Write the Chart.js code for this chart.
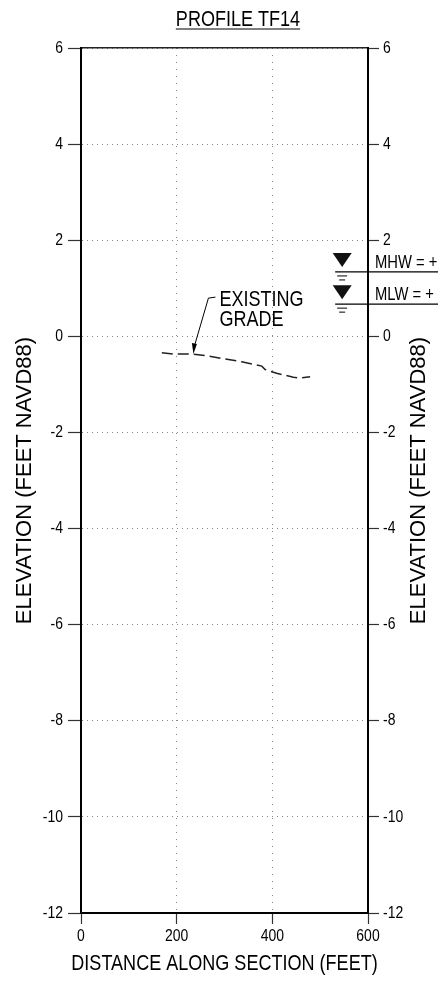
<!DOCTYPE html>
<html><head><meta charset="utf-8">
<script src="https://cdn.jsdelivr.net/npm/chart.js@4.4.1/dist/chart.umd.min.js"></script>
<style>html,body{margin:0;padding:0;background:#fff;}#wrap{width:438px;height:982px;}</style>
</head><body><div id="wrap"><canvas id="c" width="438" height="982"></canvas></div>
<script>
// ---- data ----
const distance  = [169, 193, 234, 259, 301, 336, 378, 385, 409, 444, 458, 479];
const elevation = [-0.34, -0.37, -0.37, -0.40, -0.47, -0.53, -0.62, -0.69, -0.77, -0.85, -0.87, -0.84];
const xTicks = [0, 200, 400, 600];
const yTicks = [6, 4, 2, 0, -2, -4, -6, -8, -10, -12];
const waterLevelNames = ['MHW = +', 'MLW = +'];
const waterLevelElev  = [1.34, 0.67];
const waterMarkerDistance = 546;
const chartTitle = 'PROFILE TF14';
const xTitle = 'DISTANCE ALONG SECTION (FEET)';
const yTitle = 'ELEVATION (FEET NAVD88)';
const calloutText = ['EXISTING', 'GRADE'];
const calloutPoint = [235, -0.37];

// ---- styles ----
const FONT = "'Liberation Sans', Arial, sans-serif";
const SQUEEZE = 0.82; // horizontal text is drawn slightly condensed, as in the scanned drawing

const canvas = document.getElementById('c');
const ctx0 = canvas.getContext('2d');
const origFillText = ctx0.fillText;
ctx0.fillText = function (text, x, y, maxWidth) {
  const m = this.getTransform();
  if (Math.abs(m.b) > 1e-6 || Math.abs(m.c) > 1e-6) {
    return maxWidth === undefined ? origFillText.call(this, text, x, y) : origFillText.call(this, text, x, y, maxWidth);
  }
  this.save();
  this.translate(x, y);
  this.scale(SQUEEZE, 1);
  origFillText.call(this, text, 0, 0);
  this.restore();
};

const setTicks = (arr) => (scale) => { scale.ticks = arr.map(v => ({value: v})); };

const annot = {
  id: 'annot',
  afterDraw(chart) {
    const {ctx, scales} = chart;
    const xs = scales.x, ys = scales.y;
    ctx.save();
    ctx.fillStyle = '#000';
    ctx.strokeStyle = '#000';
    // main title with underline
    ctx.font = '22px ' + FONT;
    ctx.textAlign = 'center';
    ctx.textBaseline = 'alphabetic';
    const tx = 238, ty = 26;
    ctx.fillText(chartTitle, tx, ty);
    const tw = ctx.measureText(chartTitle).width * SQUEEZE;
    ctx.lineWidth = 1.2;
    ctx.beginPath(); ctx.moveTo(tx - tw/2, ty + 3); ctx.lineTo(tx + tw/2, ty + 3); ctx.stroke();

    // right axis title (reads bottom-to-top)
    ctx.save();
    ctx.font = '22px ' + FONT;
    ctx.translate(419, (ys.top + ys.bottom) / 2);
    ctx.rotate(-Math.PI / 2);
    ctx.textBaseline = 'middle';
    ctx.textAlign = 'center';
    ctx.fillText(yTitle, 0, 0);
    ctx.restore();

    // callout "EXISTING GRADE"
    const px = xs.getPixelForValue(calloutPoint[0]);
    const py = ys.getPixelForValue(calloutPoint[1]);
    const sx = px + 15, sy = py - 56;
    ctx.lineWidth = 1;
    ctx.beginPath();
    ctx.moveTo(sx + 7, sy - 1); ctx.lineTo(sx, sy); ctx.lineTo(px + 1, py - 8);
    ctx.stroke();
    ctx.beginPath();
    ctx.moveTo(px, py); ctx.lineTo(px - 1.5, py - 11); ctx.lineTo(px + 3.5, py - 10);
    ctx.closePath(); ctx.fill();
    ctx.font = '22px ' + FONT;
    ctx.textAlign = 'left';
    ctx.textBaseline = 'alphabetic';
    ctx.fillText(calloutText[0], px + 26, py - 48);
    ctx.fillText(calloutText[1], px + 26, py - 28);

    // water level markers
    const mx = xs.getPixelForValue(waterMarkerDistance);
    waterLevelElev.forEach((e, i) => {
      const wy = ys.getPixelForValue(e);
      ctx.lineWidth = 1.3;
      ctx.beginPath(); ctx.moveTo(mx - 7, wy); ctx.lineTo(chart.width, wy); ctx.stroke();
      ctx.lineWidth = 1;
      ctx.beginPath(); ctx.moveTo(mx - 5, wy + 4); ctx.lineTo(mx + 5, wy + 4); ctx.stroke();
      ctx.beginPath(); ctx.moveTo(mx - 3, wy + 8); ctx.lineTo(mx + 3, wy + 8); ctx.stroke();
      ctx.fillStyle = '#111';
      ctx.beginPath();
      ctx.moveTo(mx - 9.5, wy - 19); ctx.lineTo(mx + 9.5, wy - 19); ctx.lineTo(mx, wy - 5);
      ctx.closePath(); ctx.fill();
      ctx.fillStyle = '#000';
      ctx.font = '18px ' + FONT;
      ctx.textAlign = 'left';
      ctx.fillText(waterLevelNames[i], 375, wy - 4);
    });
    ctx.restore();
  }
};

new Chart(canvas, {
  type: 'scatter',
  data: {
    datasets: [{
      data: distance.map((d, i) => ({x: d, y: elevation[i]})),
      showLine: true,
      pointRadius: 0,
      borderColor: '#222',
      borderWidth: 1.5,
      borderDash: [11, 5],
      fill: false
    }]
  },
  options: {
    responsive: false,
    animation: false,
    devicePixelRatio: 1,
    layout: {padding: 0},
    plugins: {legend: {display: false}, tooltip: {enabled: false}, title: {display: false}},
    scales: {
      x: {
        type: 'linear', position: 'bottom', min: 0, max: 600,
        afterBuildTicks: setTicks(xTicks),
        afterFit: (s) => { s.height = 69; },
        ticks: {color: '#000', font: {family: FONT, size: 17}, padding: 2, maxRotation: 0},
        grid: {color: '#888', lineWidth: 1, tickColor: '#333', tickLength: 11, tickWidth: 1.2},
        border: {display: true, color: '#000', width: 2, dash: [1, 6]},
        title: {display: true, text: xTitle, color: '#000', font: {family: FONT, size: 22}, padding: {top: 0, bottom: 5}}
      },
      x2: {
        type: 'linear', position: 'top', min: 0, max: 600,
        afterFit: (s) => { s.height = 48; },
        ticks: {display: false},
        grid: {display: false, drawTicks: false},
        border: {display: true, color: '#222', width: 1.5}
      },
      y: {
        type: 'linear', position: 'left', min: -12, max: 6,
        afterBuildTicks: setTicks(yTicks),
        afterFit: (s) => { s.width = 81; },
        ticks: {color: '#000', font: {family: FONT, size: 17}, padding: 5},
        grid: {color: '#888', lineWidth: 1, tickColor: '#333', tickLength: 13, tickWidth: 1.2},
        border: {display: true, color: '#000', width: 2, dash: [1, 4]},
        title: {display: true, text: yTitle, color: '#000', font: {family: FONT, size: 22}, padding: {top: 12, bottom: 0}}
      },
      y2: {
        type: 'linear', position: 'right', min: -12, max: 6,
        afterBuildTicks: setTicks(yTicks),
        afterFit: (s) => { s.width = 70; },
        ticks: {color: '#000', font: {family: FONT, size: 17}, padding: 4},
        grid: {drawOnChartArea: false, tickColor: '#333', tickLength: 11, tickWidth: 1.2},
        border: {display: true, color: '#000', width: 2}
      }
    }
  },
  plugins: [annot]
});
</script></body></html>
